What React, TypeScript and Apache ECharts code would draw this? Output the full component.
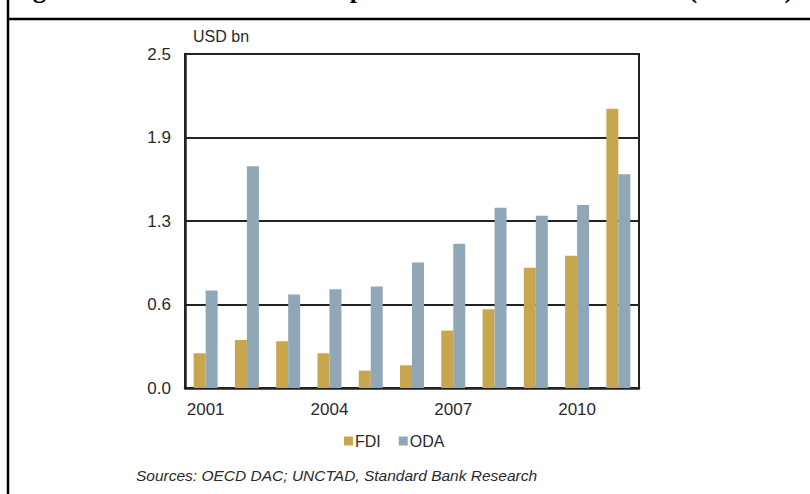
import React, { useEffect, useRef } from "react";
import * as echarts from "echarts";

const years = ["2001", "2002", "2003", "2004", "2005", "2006", "2007", "2008", "2009", "2010", "2011"];
const fdi = [0.26, 0.36, 0.35, 0.26, 0.13, 0.17, 0.43, 0.59, 0.9, 0.99, 2.09];
const oda = [0.73, 1.66, 0.7, 0.74, 0.76, 0.94, 1.08, 1.35, 1.29, 1.37, 1.6];
const yTickLabels = ["0.0", "0.6", "1.3", "1.9", "2.5"];

export default function App() {
  const ref = useRef<HTMLDivElement>(null);
  useEffect(() => {
    document.body.style.margin = "0";
    const chart = echarts.init(ref.current!, null, { renderer: "svg" });
    chart.setOption({
      animation: false,
      backgroundColor: "#ffffff",
      textStyle: { fontFamily: "Liberation Sans" },
      grid: {
        left: 185,
        right: 171,
        top: 54,
        bottom: 106,
        show: true,
        borderColor: "#222",
        borderWidth: 2,
      },
      xAxis: {
        type: "category",
        data: years,
        axisLine: { lineStyle: { color: "#222", width: 2.5 } },
        axisTick: { show: false },
        axisLabel: { interval: 2, color: "#2a2a2a", fontSize: 17, margin: 13 },
      },
      yAxis: {
        type: "value",
        min: 0,
        max: 2.5,
        interval: 0.625,
        axisLine: { show: true, lineStyle: { color: "#222", width: 2.5 } },
        axisTick: { show: false },
        splitLine: { lineStyle: { color: "#222", width: 2 } },
        axisLabel: {
          color: "#2a2a2a",
          fontSize: 17,
          margin: 14,
          formatter: (_v: number, i: number) => yTickLabels[i],
        },
      },
      legend: {
        left: 339,
        top: 428,
        icon: "rect",
        itemWidth: 9,
        itemHeight: 9,
        itemGap: 18,
        textStyle: { color: "#2a2a2a", fontSize: 16, padding: [0, 0, 0, -3] },
        data: ["FDI", "ODA"],
      },
      series: [
        { name: "FDI", type: "bar", data: fdi, barWidth: 12, barGap: "0%", itemStyle: { color: "#C8A64E" } },
        { name: "ODA", type: "bar", data: oda, barWidth: 12, itemStyle: { color: "#8FA7B6" } },
      ],
      graphic: [
        {
          type: "text",
          left: 193,
          top: 28,
          style: { text: "USD bn", fill: "#2a2a2a", font: "16px 'Liberation Sans'" },
        },
        {
          type: "text",
          left: 136,
          top: 467,
          style: {
            text: "Sources: OECD DAC; UNCTAD, Standard Bank Research",
            fill: "#2a2a2a",
            font: "italic 15.5px 'Liberation Sans'",
          },
        },
        {
          type: "text",
          x: 10,
          y: 2,
          style: {
            text: "Figure 12: FDI and ODA: comparison in the decade 2001–11 (USD bn)",
            fill: "#000",
            font: "bold 26px 'Liberation Serif'",
            textAlign: "left",
            textVerticalAlign: "bottom",
          },
        },
        {
          type: "line",
          shape: { x1: 8, y1: 0, x2: 8, y2: 494 },
          style: { stroke: "#000", lineWidth: 2.5 },
        },
        {
          type: "line",
          shape: { x1: 8, y1: 19, x2: 810, y2: 19 },
          style: { stroke: "#000", lineWidth: 2.5 },
        },
      ],
    });
    return () => chart.dispose();
  }, []);
  return <div ref={ref} style={{ width: 810, height: 494 }} />;
}
